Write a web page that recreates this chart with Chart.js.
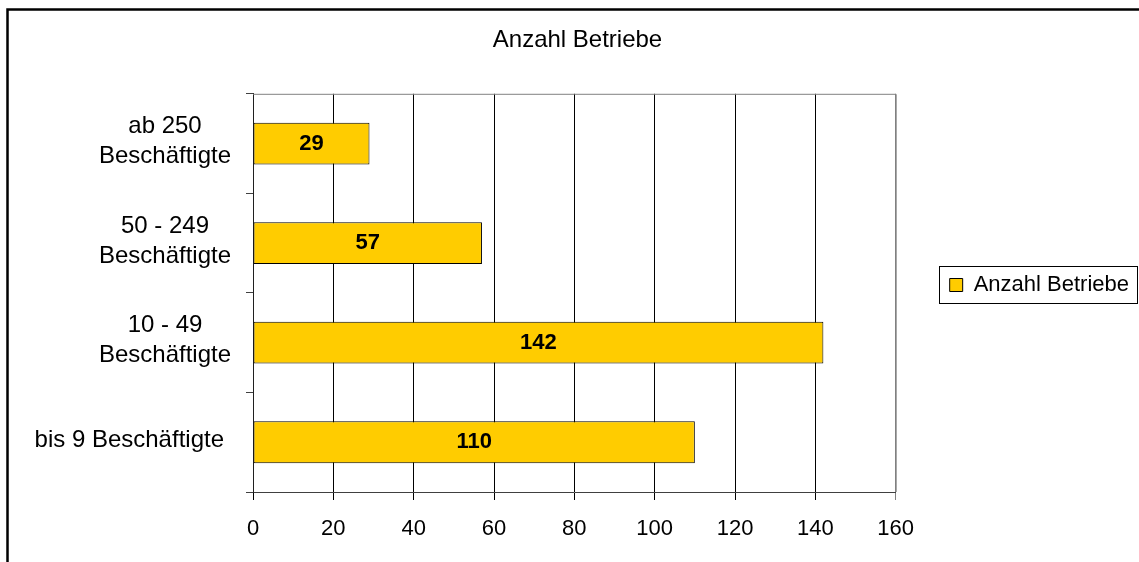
<!DOCTYPE html>
<html>
<head>
<meta charset="utf-8">
<script src="https://cdn.jsdelivr.net/npm/chart.js@4"></script>
<style>
  html, body { margin: 0; padding: 0; background: #fff; }
  canvas { display: block; }
</style>
</head>
<body>
<canvas id="betriebe" width="1139" height="562"></canvas>
<script>
// categories top to bottom
const categories = [
  ['ab 250', 'Beschäftigte'],
  ['50 - 249', 'Beschäftigte'],
  ['10 - 49', 'Beschäftigte'],
  ['bis 9 Beschäftigte']
];
const anzahl = [29, 57, 142, 110];
const seriesName = 'Anzahl Betriebe';
const xTicks = [0, 20, 40, 60, 80, 100, 120, 140, 160];

const FONT = "'Liberation Sans', Arial, sans-serif";
const ctx = document.getElementById('betriebe');

// frame, plot border, legend frame, category labels and bar values
const excelLook = {
  id: 'excelLook',
  afterDraw(chart) {
    const c = chart.ctx;
    const a = chart.chartArea;
    c.save();

    // outer frame (only top and left are visible in the crop)
    c.strokeStyle = '#000';
    c.lineWidth = 2.5;
    c.beginPath();
    c.moveTo(7.5, chart.height);
    c.lineTo(7.5, 9.5);
    c.lineTo(chart.width, 9.5);
    c.stroke();

    // plot area border top + right
    c.strokeStyle = '#808080';
    c.lineWidth = 1;
    c.beginPath();
    c.moveTo(a.left, a.top + 0.5);
    c.lineTo(a.right + 0.5, a.top + 0.5);
    c.lineTo(a.right + 0.5, a.bottom);
    c.stroke();

    // legend frame
    const hb = chart.legend.legendHitBoxes[0];
    if (hb) {
      const cy = hb.top + hb.height / 2;
      const lx = Math.round(hb.left - 11);
      c.strokeStyle = '#000';
      c.strokeRect(lx + 0.5, Math.round(cy - 19) + 0.5, chart.width - 2 - lx, 37);
    }

    // category labels
    const yScale = chart.scales.y;
    c.fillStyle = '#000';
    c.font = '24px ' + FONT;
    c.textAlign = 'center';
    c.textBaseline = 'middle';
    categories.forEach((lines, i) => {
      const yc = yScale.getPixelForValue(i);
      let w = 0;
      lines.forEach(l => { w = Math.max(w, c.measureText(l).width); });
      const cx = w > 150 ? 224 - w / 2 : 165;
      const lh = 30;
      const y0 = yc - 2 - (lines.length - 1) * lh / 2;
      lines.forEach((l, k) => c.fillText(l, cx, y0 + k * lh));
    });

    // values inside the bars
    c.font = 'bold 22px ' + FONT;
    chart.getDatasetMeta(0).data.forEach((bar, i) => {
      c.fillText(String(anzahl[i]), (bar.x + bar.base) / 2, bar.y);
    });

    c.restore();
  }
};

new Chart(ctx, {
  type: 'bar',
  data: {
    labels: categories,
    datasets: [
      {
        label: seriesName,
        data: anzahl,
        backgroundColor: '#FFCC00',
        borderColor: '#000',
        borderWidth: 1,
        borderSkipped: false,
        categoryPercentage: 0.42,
        barPercentage: 1
      }
    ]
  },
  options: {
    indexAxis: 'y',
    responsive: false,
    animation: false,
    events: [],
    layout: { padding: { left: 16, right: 0, top: 8, bottom: 0 } },
    plugins: {
      title: {
        display: true,
        text: seriesName,
        color: '#000',
        font: { family: FONT, size: 24, weight: 'normal' },
        padding: { top: 18, bottom: 39 }
      },
      legend: {
        position: 'right',
        labels: {
          color: '#000',
          font: { family: FONT, size: 22 },
          boxWidth: 13,
          boxHeight: 13,
          padding: 54
        }
      },
      tooltip: { enabled: false }
    },
    scales: {
      x: {
        min: 0,
        max: 160,
        afterFit: s => { s.height = 70; },
        afterBuildTicks: s => { s.ticks = xTicks.map(v => ({ value: v })); },
        ticks: {
          color: '#000',
          font: { family: FONT, size: 22 },
          padding: 16
        },
        grid: {
          color: c => (c.tick && c.tick.value === 160 ? '#808080' : '#000'),
          tickLength: 8
        },
        border: { color: '#404040' }
      },
      y: {
        afterFit: s => { s.width = 237; },
        ticks: { display: false },
        grid: {
          drawOnChartArea: false,
          color: '#404040',
          tickLength: 7
        },
        border: { color: '#202020' }
      }
    }
  },
  plugins: [excelLook]
});
</script>
</body>
</html>
